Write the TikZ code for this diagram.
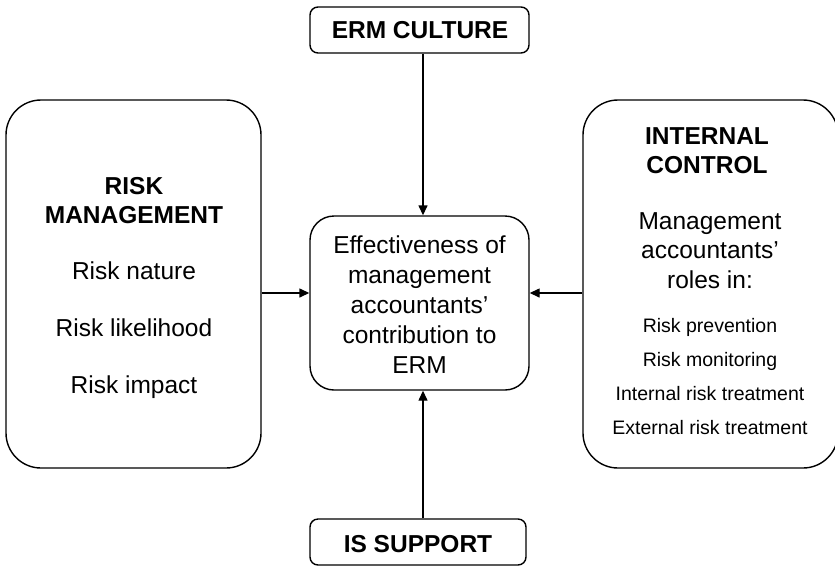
\documentclass[tikz,border=0pt]{standalone}
\usepackage{fontspec}
\setmainfont{Liberation Sans}
\usetikzlibrary{arrows.meta}
\tikzset{
  box/.style={draw, line width=1.4pt, inner sep=0pt, fill=none},
  bigbox/.style={box, rounded corners=35pt, minimum width=255pt, minimum height=368pt},
  smallbox/.style={box, rounded corners=8pt, minimum height=46pt},
  big/.style={anchor=base, inner sep=0pt, font=\fontsize{24.5}{29}\selectfont},
  bigb/.style={big, font=\fontsize{24.5}{29}\selectfont\bfseries},
  small/.style={anchor=base, inner sep=0pt, font=\fontsize{19.5}{23}\selectfont},
  arr/.style={line width=1.4pt, -{Triangle[length=10pt,width=9pt]}}
}
\begin{document}
\begin{tikzpicture}[x=1pt,y=-1pt]
\useasboundingbox (0,0) rectangle (835,566);
% boxes
\node[smallbox, minimum width=219pt] (erm) at (419.5,30) {};
\node[smallbox, minimum width=216pt] (issup) at (418,542) {};
\node[bigbox] (rm) at (133.5,284) {};
\node[bigbox] (ic) at (710.5,284) {};
\node[box, rounded corners=24pt, minimum width=219pt, minimum height=174pt] (eff) at (419.5,303) {};
% texts
\node[bigb] (t1) at (420,38) {ERM CULTURE};
\node[bigb] (t2) at (418,552) {IS SUPPORT};
\node[bigb] (l1) at (134,194) {RISK};
\node[bigb] (l2) at (134,223) {MANAGEMENT};
\node[big] (l3) at (134,279) {Risk nature};
\node[big] (l4) at (134,336) {Risk likelihood};
\node[big] (l5) at (134,393) {Risk impact};
\node[big] (c1) at (419.5,253) {Effectiveness of};
\node[big] (c2) at (419.5,283) {management};
\node[big] (c3) at (419.5,313) {accountants’};
\node[big] (c4) at (419.5,343) {contribution to};
\node[big] (c5) at (419.5,373) {ERM};
\node[bigb] (r1) at (707,144) {INTERNAL};
\node[bigb] (r2) at (707,173) {CONTROL};
\node[big] (r3) at (710,229) {Management};
\node[big] (r4) at (710,258) {accountants’};
\node[big] (r5) at (710,288) {roles in:};
\node[small] (r6) at (710,332) {Risk prevention};
\node[small] (r7) at (710,366) {Risk monitoring};
\node[small] (r8) at (710,400) {Internal risk treatment};
\node[small] (r9) at (710,434) {External risk treatment};
% connectors
\draw[arr] ([xshift=3.5pt]erm.south) -- ([xshift=3.5pt]eff.north);
\draw[arr] ([xshift=5pt]issup.north) -- ([xshift=3.5pt]eff.south);
\draw[arr] ([yshift=-9pt]rm.east) -- ([yshift=10pt]eff.west);
\draw[arr] ([yshift=-9pt]ic.west) -- ([yshift=10pt]eff.east);
\end{tikzpicture}
\end{document}
